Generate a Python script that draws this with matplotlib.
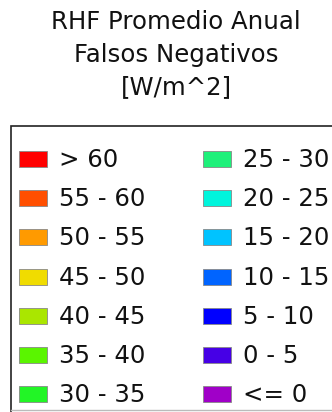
import matplotlib
matplotlib.use("Agg")
import matplotlib.pyplot as plt
from matplotlib.patches import Rectangle

title_lines = ["RHF Promedio Anual", "Falsos Negativos", "[W/m^2]"]
labels = ["> 60", "55 - 60", "50 - 55", "45 - 50", "40 - 45", "35 - 40", "30 - 35",
          "25 - 30", "20 - 25", "15 - 20", "10 - 15", "5 - 10", "0 - 5", "<= 0"]
colors = ["#ff0000", "#ff4f00", "#ff9a00", "#f0dc00", "#aae600", "#5af500", "#22f526",
          "#1ef07a", "#00f5dc", "#00c3ff", "#0064ff", "#0000ff", "#4600e6", "#a000c8"]

W, H = 332, 412
fig = plt.figure(figsize=(W / 100, H / 100), dpi=100)
ax = fig.add_axes([0, 0, 1, 1])
ax.set_xlim(0, W)
ax.set_ylim(H, 0)
ax.axis("off")

font = "DejaVu Sans"
fs = 17.6
for i, line in enumerate(title_lines):
    ax.text(176, 22 + i * 32.5, line, ha="center", va="center", fontsize=fs, family=font, color="#111111")

# legend frame
ax.plot([11, 11, W + 5], [H + 5, 126, 126], color="#222222", lw=1.2, solid_joinstyle="miter")
ax.plot([11, W], [410, 410], color="#bbbbbb", lw=1)

nrows = 7
for i, (lab, col) in enumerate(zip(labels, colors)):
    c, r = divmod(i, nrows)
    x0 = 19 if c == 0 else 203
    y = 159 + r * 39.2
    ax.add_patch(Rectangle((x0, y - 8), 28, 16, facecolor=col, edgecolor="#888888", lw=0.6))
    ax.text(x0 + 40, y + 1, lab, ha="left", va="center", fontsize=fs, family=font, color="#111111")

fig.savefig("out.png", dpi=100)
